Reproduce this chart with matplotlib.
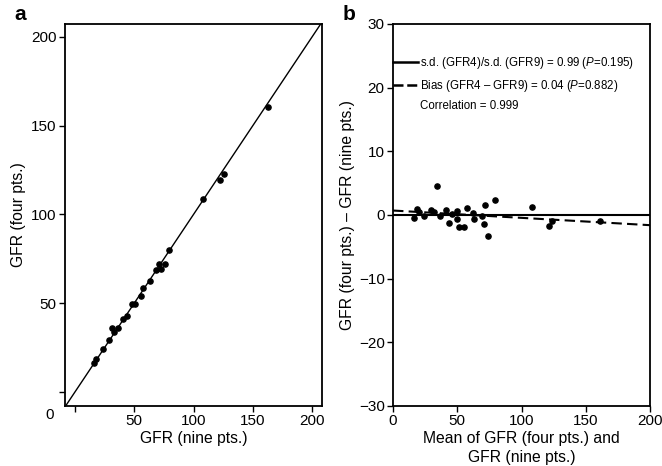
import matplotlib

matplotlib.use("Agg")
import matplotlib.pyplot as plt
from matplotlib.lines import Line2D

plt.rcParams["font.family"] = ["Liberation Sans", "DejaVu Sans"]
plt.rcParams["mathtext.fontset"] = "custom"
plt.rcParams["mathtext.it"] = "Liberation Sans:italic"
plt.rcParams["mathtext.rm"] = "Liberation Sans"

# panel a: GFR nine points vs four points
gfr_nine = [15.7, 17.7, 24, 29, 31.1, 32.6, 36.3, 40.6, 44.3, 48.3, 51, 55.4,
            57.7, 63.4, 68.6, 70.6, 72.9, 76.3, 79, 108, 122.6, 125.7, 162.9]
gfr_four = [16.2, 18.4, 24, 29.3, 35.9, 33.5, 35.9, 41, 42.9, 49.4, 49.6, 54.1,
            58.5, 62.6, 68.8, 72, 69.2, 72, 80, 108.6, 119.5, 123, 160.5]

# panel b: Bland-Altman
ba_mean = [16.3, 18.4, 20.2, 24.1, 29.3, 32, 34, 36.6, 41, 43.6, 46.2, 49.5,
           49.5, 51, 55.3, 57.8, 62.5, 63, 69.5, 70.8, 71.6, 74.2, 79, 108,
           121, 124, 161]
ba_diff = [-0.5, 0.95, 0.4, -0.1, 0.8, 0.4, 4.55, -0.1, 0.85, -1.3, 0.15, 0.6,
           -0.6, -1.95, -1.95, 1.05, 0.3, -0.6, -0.1, -1.4, 1.6, -3.3, 2.4, 1.2,
           -1.7, -1.0, -1.0]
reg_intercept = 0.7
reg_slope = -0.0115

TICK_FS = 11
LAB_FS = 11.3

fig = plt.figure(figsize=(6.62, 4.66), dpi=100)
ax_a = fig.add_axes([0.0982, 0.1288, 0.3882, 0.8197])
ax_b = fig.add_axes([0.5937, 0.1288, 0.3882, 0.8197])

for ax in (ax_a, ax_b):
    for s in ax.spines.values():
        s.set_linewidth(1.3)
    ax.tick_params(direction="out", length=4, width=1.0, labelsize=TICK_FS, pad=2)

# ---- panel a
ax_a.axline((0, 0), slope=1, color="black", lw=1.0)
ax_a.scatter(gfr_nine, gfr_four, s=14, color="black", zorder=3)
ax_a.set_xlim(-8.4, 208.4)
ax_a.set_ylim(-7.9, 207.3)
ax_a.set_xticks([0, 50, 100, 150, 200])
ax_a.set_xticklabels(["", "50", "100", "150", "200"])
ax_a.set_yticks([0, 50, 100, 150, 200])
ax_a.set_yticklabels(["", "50", "100", "150", "200"])
ax_a.text(-21, -13, "0", fontsize=TICK_FS, ha="center", va="center", clip_on=False)
ax_a.set_xlabel("GFR (nine pts.)", fontsize=LAB_FS, labelpad=2)
ax_a.set_ylabel("GFR (four pts.)", fontsize=LAB_FS, labelpad=4)

# ---- panel b
ax_b.axhline(0, color="black", lw=1.5)
ax_b.axline((0, reg_intercept), slope=reg_slope, color="black", lw=1.5,
            ls=(0, (5, 2.5)))
ax_b.scatter(ba_mean, ba_diff, s=14, color="black", zorder=3)
ax_b.set_xlim(0, 200)
ax_b.set_ylim(-30, 30)
ax_b.set_xticks([0, 50, 100, 150, 200])
ax_b.set_yticks([-30, -20, -10, 0, 10, 20, 30])
ax_b.set_xlabel("Mean of GFR (four pts.) and\nGFR (nine pts.)", fontsize=LAB_FS,
                labelpad=2, linespacing=1.3)
ax_b.set_ylabel("GFR (four pts.) \u2013 GFR (nine pts.)", fontsize=LAB_FS, labelpad=3)

handles = [
    Line2D([], [], color="black", lw=1.8),
    Line2D([], [], color="black", lw=1.8, ls=(0, (4, 1.5))),
    Line2D([], [], color="none"),
]
labels = [
    "s.d. (GFR4)/s.d. (GFR9) = 0.99 ($P$=0.195)",
    "Bias (GFR4 \u2013 GFR9) = 0.04 ($P$=0.882)",
    "Correlation = 0.999",
]
ax_b.legend(handles, labels, loc="upper left", bbox_to_anchor=(0, 0.918),
            frameon=False, fontsize=8.3, borderaxespad=0, borderpad=0,
            handlelength=2.2, handletextpad=0.15, labelspacing=0.55)

fig.text(0.030, 0.968, "a", fontsize=15, fontweight="bold", ha="center", va="center")
fig.text(0.527, 0.968, "b", fontsize=15, fontweight="bold", ha="center", va="center")

fig.savefig("out.png", dpi=100)
